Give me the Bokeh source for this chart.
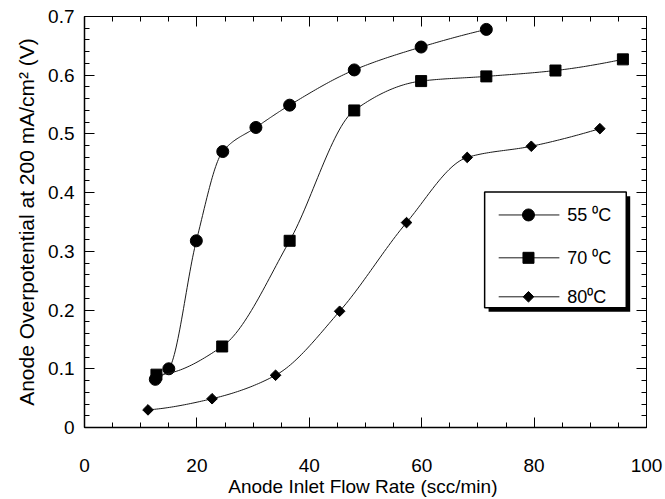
import numpy as np
from bokeh.plotting import figure
from bokeh.models import LinearAxis, FixedTicker, CustomJSTickFormatter
from bokeh.core.properties import value
from bokeh.embed import file_html
from bokeh.resources import INLINE

# ---- data ----
flow_55 = [12.6, 15.0, 19.9, 24.6, 30.5, 36.5, 48.0, 59.9, 71.5]
volt_55 = [0.082, 0.100, 0.318, 0.470, 0.511, 0.549, 0.609, 0.648, 0.678]
flow_70 = [12.8, 24.5, 36.5, 48.0, 59.9, 71.5, 83.8, 95.8]
volt_70 = [0.090, 0.138, 0.318, 0.540, 0.590, 0.598, 0.608, 0.627]
flow_80 = [11.3, 22.7, 34.0, 45.4, 57.3, 68.1, 79.5, 91.7]
volt_80 = [0.030, 0.049, 0.089, 0.198, 0.349, 0.460, 0.479, 0.509]
series_labels = ["55 \u2070C", "70 \u2070C", "80\u2070C"]
x_ticks = [0, 20, 40, 60, 80, 100]
y_ticks = [0, 0.1, 0.2, 0.3, 0.4, 0.5, 0.6, 0.7]
x_minor = [v for v in range(0, 101, 5)]
y_minor = [round(v * 0.02, 2) for v in range(0, 36)]

FONT = "Liberation Sans"


def pchip(x, y, n=30):
    x = np.asarray(x, float)
    y = np.asarray(y, float)
    h = np.diff(x)
    d = np.diff(y) / h
    m = np.zeros_like(x)
    for k in range(1, len(x) - 1):
        if d[k - 1] * d[k] <= 0:
            m[k] = 0.0
        else:
            w1 = 2 * h[k] + h[k - 1]
            w2 = h[k] + 2 * h[k - 1]
            m[k] = (w1 + w2) / (w1 / d[k - 1] + w2 / d[k])

    def end(h0, h1, d0, d1):
        s = ((2 * h0 + h1) * d0 - h0 * d1) / (h0 + h1)
        if np.sign(s) != np.sign(d0):
            s = 0.0
        elif np.sign(d0) != np.sign(d1) and abs(s) > abs(3 * d0):
            s = 3 * d0
        return s

    m[0] = end(h[0], h[1], d[0], d[1])
    m[-1] = end(h[-1], h[-2], d[-1], d[-2])
    xs, ys = [], []
    for k in range(len(x) - 1):
        t = np.linspace(0, 1, n, endpoint=(k == len(x) - 2))
        h00 = 2 * t**3 - 3 * t**2 + 1
        h10 = t**3 - 2 * t**2 + t
        h01 = -2 * t**3 + 3 * t**2
        h11 = t**3 - t**2
        xs.extend(x[k] + t * h[k])
        ys.extend(h00 * y[k] + h10 * h[k] * m[k] + h01 * y[k + 1] + h11 * h[k] * m[k + 1])
    return xs, ys


p = figure(width=665, height=499, x_range=(0, 100), y_range=(0, 0.7),
           min_border_left=84, min_border_right=19, min_border_top=16,
           min_border_bottom=71, toolbar_location=None, output_backend="svg",
           x_axis_location=None, y_axis_location=None)
p.grid.visible = False
p.outline_line_color = "black"
p.outline_line_width = 1
p.background_fill_color = "white"
p.border_fill_color = "white"


def style_axis(ax, ticker, show_labels):
    ax.ticker = ticker
    ax.axis_line_color = "black"
    ax.axis_line_width = 1.5
    ax.major_tick_in = 10
    ax.major_tick_out = 0
    ax.minor_tick_in = 5
    ax.minor_tick_out = 0
    ax.major_tick_line_color = "black"
    ax.minor_tick_line_color = "black"
    if show_labels:
        ax.major_label_text_font = FONT
        ax.major_label_text_font_size = "19px"
        ax.major_label_text_color = "black"
    else:
        ax.formatter = CustomJSTickFormatter(code="return ''")
        ax.major_label_standoff = 0


xb = LinearAxis(axis_label="Anode  Inlet Flow Rate (scc/min)")
style_axis(xb, FixedTicker(ticks=x_ticks, minor_ticks=x_minor), True)
xb.major_label_standoff = 31
xb.axis_label_standoff = 1
xb.axis_label_text_font = FONT
xb.axis_label_text_font_size = "19px"
xb.axis_label_text_font_style = "normal"
xb.axis_label_text_color = "black"
p.add_layout(xb, "below")

yl = LinearAxis(axis_label="Anode Overpotential at 200 mA/cm\u00b2 (V)")
style_axis(yl, FixedTicker(ticks=y_ticks, minor_ticks=y_minor), True)
yl.major_label_standoff = 10
yl.axis_label_standoff = 7
yl.axis_label_text_font = FONT
yl.axis_label_text_font_size = "21px"
yl.axis_label_text_font_style = "normal"
yl.axis_label_text_color = "black"
p.add_layout(yl, "left")

xa = LinearAxis()
style_axis(xa, FixedTicker(ticks=x_ticks, minor_ticks=x_minor), False)
xa.axis_line_width = 1
p.add_layout(xa, "above")

yr = LinearAxis()
style_axis(yr, FixedTicker(ticks=y_ticks, minor_ticks=y_minor), False)
yr.axis_line_width = 1
p.add_layout(yr, "right")

line_color = "#1a1a1a"
series = [
    (flow_55, volt_55, "circle", 12, 0),
    (flow_70, volt_70, "square", 11, 0),
    (flow_80, volt_80, "square", 7.5, np.pi / 4),
]
for fx, vy, marker, size, ang in series:
    sx, sy = pchip(fx, vy)
    p.line(sx, sy, line_color=line_color, line_width=1)
    p.scatter(fx, vy, marker=marker, size=size, angle=ang,
              fill_color="black", line_color="black")

# legend box with drop shadow
p.quad(left=[71.9], right=[97.1], top=[0.394], bottom=[0.197],
       fill_color="black", line_color=None)
p.quad(left=[71.2], right=[96.4], top=[0.401], bottom=[0.204],
       fill_color="white", line_color="black", line_width=1.5)
rows_y = [0.362, 0.289, 0.2226]
for (fx, vy, marker, size, ang), ry, lab in zip(series, rows_y, series_labels):
    p.line([73.7, 84.5], [ry, ry], line_color=line_color, line_width=1)
    p.scatter([79.0], [ry], marker=marker, size=size, angle=ang,
              fill_color="black", line_color="black")
    p.text(x=[85.9], y=[ry], text=[lab], text_font=value(FONT),
           text_font_size="18px", text_baseline="middle", text_color="black")

open("out.html", "w").write(file_html(p, INLINE))
